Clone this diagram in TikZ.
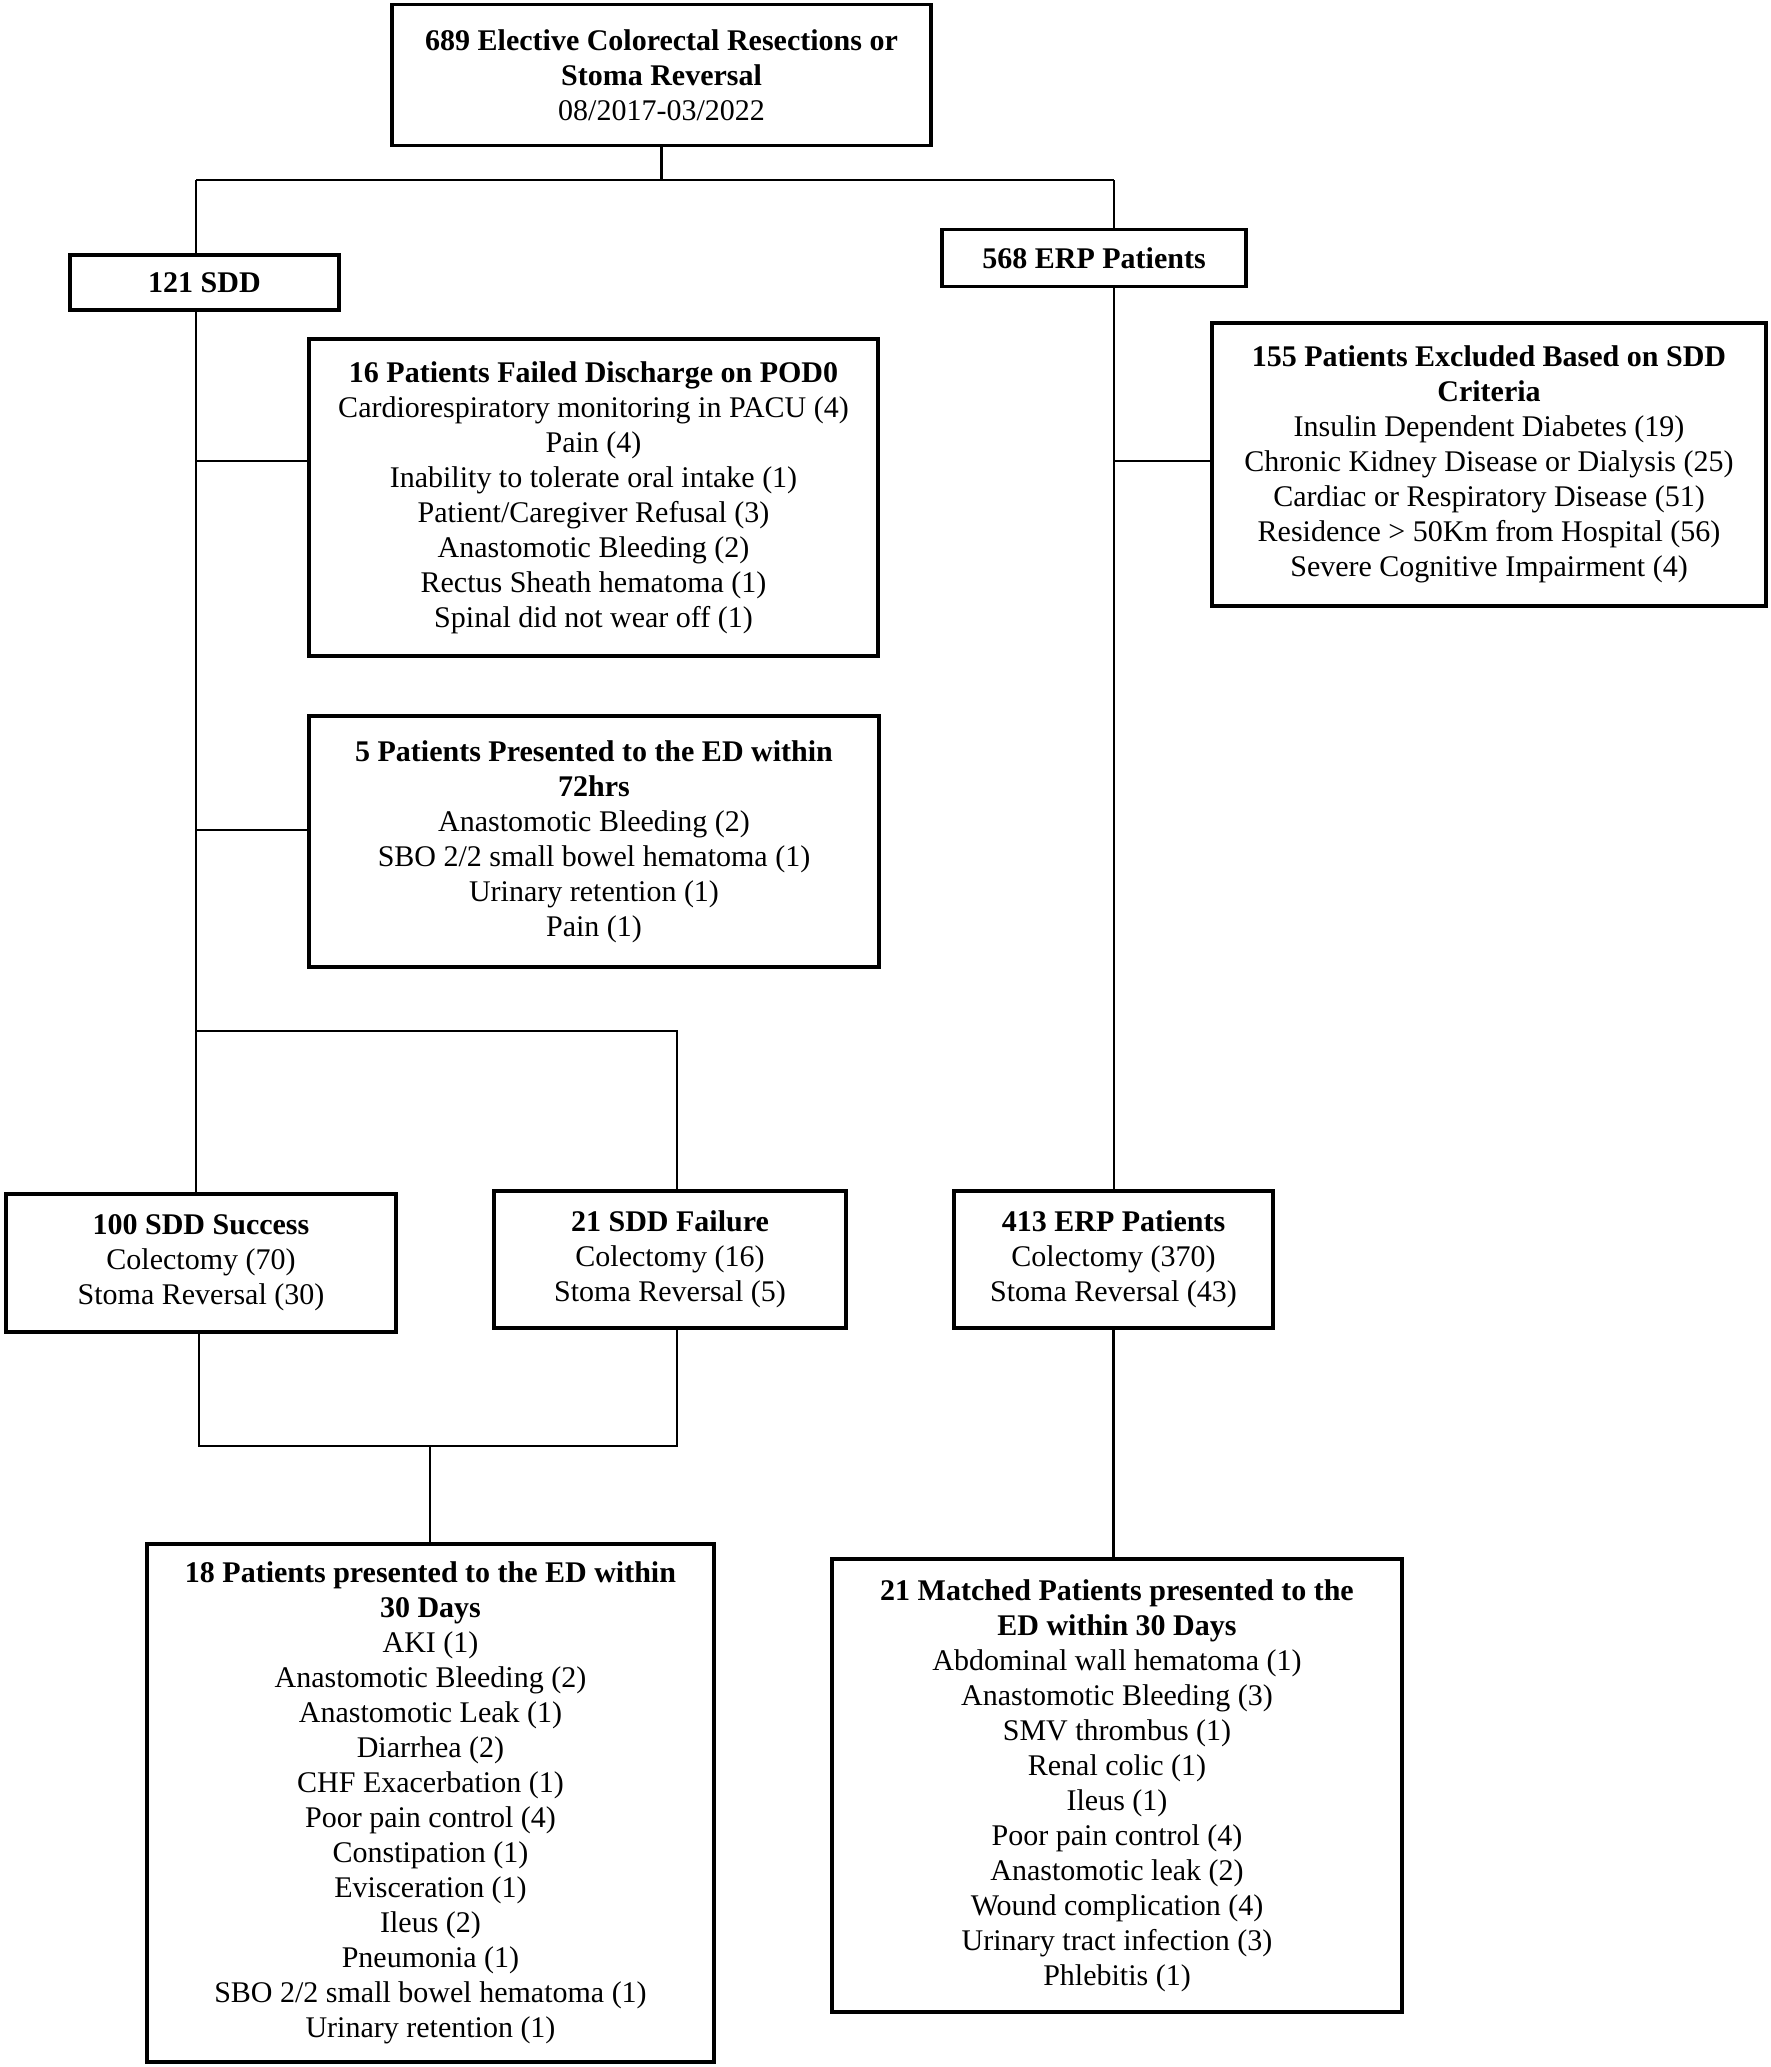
\documentclass[tikz,border=0pt]{standalone}
\usepackage{fontspec}
\setmainfont{Liberation Serif}
\usepackage{tikz}
\usetikzlibrary{calc,positioning}

\begin{document}
\begin{tikzpicture}[
        x=1pt, y=-1pt,
        box/.style={rectangle, draw=black, line width=3.5pt, fill=white, inner sep=0pt, align=center, font=\fontsize{30}{35}\selectfont},
        link/.style={draw=black, line width=2.5pt}
    ]
        \useasboundingbox (0,0) rectangle (1770,2067);

        % Zones
        \node[box, minimum width=539, minimum height=141] (total) at (661.5,75) {\textbf{689 Elective Colorectal Resections or}\\\textbf{Stoma Reversal}\\08/2017-03/2022};
        \node[box, minimum width=269, minimum height=55] (sdd) at (204.5,282.5) {\textbf{121 SDD}};
        \node[box, minimum width=304, minimum height=57] (erp) at (1094,258) {\textbf{568 ERP Patients}};

        % Exclusions
        \node[box, minimum width=569, minimum height=317] (failed) at (593.5,497.5) {\textbf{16 Patients Failed Discharge on POD0}\\Cardiorespiratory monitoring in PACU (4)\\Pain (4)\\Inability to tolerate oral intake (1)\\Patient/Caregiver Refusal (3)\\Anastomotic Bleeding (2)\\Rectus Sheath hematoma (1)\\Spinal did not wear off (1)};
        \node[box, minimum width=554, minimum height=283] (excluded) at (1489,464.5) {\textbf{155 Patients Excluded Based on SDD}\\\textbf{Criteria}\\Insulin Dependent Diabetes (19)\\Chronic Kidney Disease or Dialysis (25)\\Cardiac or Respiratory Disease (51)\\Residence > 50Km from Hospital (56)\\Severe Cognitive Impairment (4)};
        \node[box, minimum width=570, minimum height=251] (edearly) at (594,841.5) {\textbf{5 Patients Presented to the ED within}\\\textbf{72hrs}\\Anastomotic Bleeding (2)\\SBO 2/2 small bowel hematoma (1)\\Urinary retention (1)\\Pain (1)};

        % Groups
        \node[box, minimum width=390, minimum height=138] (success) at (201,1263) {\textbf{100 SDD Success}\\Colectomy (70)\\Stoma Reversal (30)};
        \node[box, minimum width=352, minimum height=137] (failure) at (670,1259.5) {\textbf{21 SDD Failure}\\Colectomy (16)\\Stoma Reversal (5)};
        \node[box, minimum width=319, minimum height=137] (erpfinal) at (1113.5,1259.5) {\textbf{413 ERP Patients}\\Colectomy (370)\\Stoma Reversal (43)};

        % Outcomes
        \node[box, minimum width=567, minimum height=518] (sddreturn) at (430.5,1803) {\textbf{18 Patients presented to the ED within}\\\textbf{30 Days}\\AKI (1)\\Anastomotic Bleeding (2)\\Anastomotic Leak (1)\\Diarrhea (2)\\CHF Exacerbation (1)\\Poor pain control (4)\\Constipation (1)\\Evisceration (1)\\Ileus (2)\\Pneumonia (1)\\SBO 2/2 small bowel hematoma (1)\\Urinary retention (1)};
        \node[box, minimum width=570, minimum height=453] (erpreturn) at (1117,1785.5) {\textbf{21 Matched Patients presented to the}\\\textbf{ED within 30 Days}\\Abdominal wall hematoma (1)\\Anastomotic Bleeding (3)\\SMV thrombus (1)\\Renal colic (1)\\Ileus (1)\\Poor pain control (4)\\Anastomotic leak (2)\\Wound complication (4)\\Urinary tract infection (3)\\Phlebitis (1)};

        % Junctions
        \coordinate (splitL) at (196,180);
        \coordinate (splitR) at (1114,180);
        \coordinate (branchA) at (196,461);
        \coordinate (branchB) at (196,830);
        \coordinate (branchC) at (196,1031);
        \coordinate (failJ) at (677,1031);
        \coordinate (branchR) at (1114,461);
        \coordinate (mergeL) at (199,1446);
        \coordinate (mergeR) at (677,1446);
        \coordinate (mergeM) at (430,1446);

        % Flows
        \draw[link] (total.south) -- (total.south |- splitL);
        \draw[link] (splitL) -- (splitR);
        \draw[link] (splitL) -- (splitL |- sdd.north);
        \draw[link] (splitR) -- (splitR |- erp.north);
        \draw[link] (splitL |- sdd.south) -- (splitL |- success.north);
        \draw[link] (branchA) -- (branchA -| failed.west);
        \draw[link] (branchB) -- (branchB -| edearly.west);
        \draw[link] (branchC) -- (failJ) -- (failJ |- failure.north);
        \draw[link] (splitR |- erp.south) -- (splitR |- erpfinal.north);
        \draw[link] (branchR) -- (branchR -| excluded.west);
        \draw[link] (mergeL |- success.south) -- (mergeL) -- (mergeR) -- (mergeR |- failure.south);
        \draw[link] (mergeM) -- (mergeM |- sddreturn.north);
        \draw[link] (erpfinal.south) -- (erpfinal.south |- erpreturn.north);

    \end{tikzpicture}
\end{document}
